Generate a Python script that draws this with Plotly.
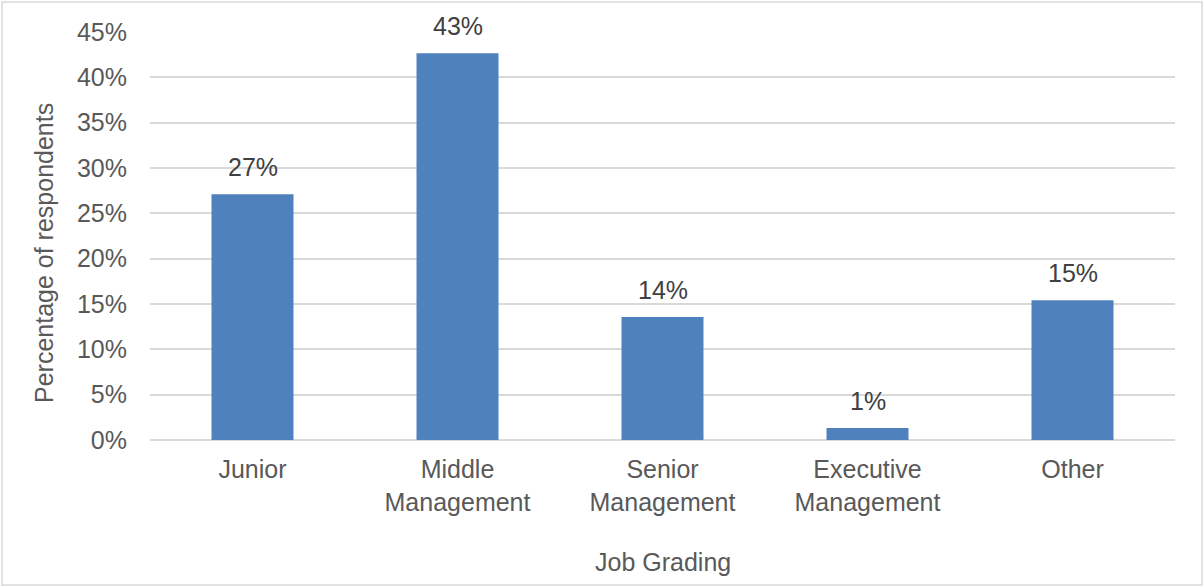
import plotly.graph_objects as go

# Survey breakdown by job grading
categories = ["Junior", "Middle<br>Management", "Senior<br>Management",
              "Executive<br>Management", "Other"]
shares = [0.271, 0.4265, 0.1357, 0.0132, 0.154]
y_ticks = [0, 0.05, 0.10, 0.15, 0.20, 0.25, 0.30, 0.35, 0.40, 0.45]
y_tick_labels = [f"{int(round(t * 100))}%" for t in y_ticks]

W, H = 1204, 587
ML, MR, MT, MB = 150, 29, 32, 147
FONT = "Liberation Sans, Arial, sans-serif"
FS = 25
BAR = "#4f81bd"
GRID = "#d9d9d9"

fig = go.Figure(
    go.Bar(
        x=categories,
        y=shares,
        marker=dict(color=BAR, line=dict(width=0)),
        width=0.4,
        hoverinfo="x+y",
    )
)

# Value labels above each bar
for cat, val in zip(categories, shares):
    fig.add_annotation(
        x=cat, y=val,
        text=f"{val:.0%}",
        showarrow=False,
        yanchor="bottom",
        yshift=11,
        font=dict(family=FONT, size=FS, color="#404040"),
    )

fig.update_layout(
    width=W,
    height=H,
    margin=dict(l=ML, r=MR, t=MT, b=MB),
    paper_bgcolor="white",
    plot_bgcolor="white",
    showlegend=False,
    font=dict(family=FONT, size=FS, color="#595959"),
)

fig.update_xaxes(
    showgrid=False,
    showline=False,
    zeroline=False,
    ticks="",
    ticklabelstandoff=12,
    tickfont=dict(family=FONT, size=FS, color="#595959"),
)

fig.update_yaxes(
    range=[0, 0.45],
    tickvals=y_ticks,
    ticktext=y_tick_labels,
    showgrid=True,
    gridcolor=GRID,
    gridwidth=1.5,
    zeroline=True,
    zerolinecolor=GRID,
    zerolinewidth=1.5,
    showline=False,
    ticks="",
    ticklabelstandoff=22,
    tickfont=dict(family=FONT, size=FS, color="#595959"),
)

# Axis titles
fig.add_annotation(
    text="Percentage of respondents",
    xref="paper", yref="paper",
    x=0, y=0.5,
    xanchor="center", yanchor="middle",
    xshift=-106, yshift=-17,
    textangle=-90,
    showarrow=False,
    font=dict(family=FONT, size=FS, color="#595959"),
)
fig.add_annotation(
    text="Job Grading",
    xref="paper", yref="paper",
    x=0.5, y=0,
    xanchor="center", yanchor="middle",
    yshift=-122,
    showarrow=False,
    font=dict(family=FONT, size=FS, color="#595959"),
)

# Chart-area border
pw, ph = W - ML - MR, H - MT - MB
fig.add_shape(
    type="rect", xref="paper", yref="paper",
    x0=(2 - ML) / pw, x1=(W - 2 - ML) / pw,
    y0=-(H - 2 - MT - ph) / ph, y1=(MT - 2) / ph + 1,
    line=dict(color=GRID, width=1.5),
    fillcolor="rgba(0,0,0,0)",
    layer="below",
)

fig.write_html("out.html")
